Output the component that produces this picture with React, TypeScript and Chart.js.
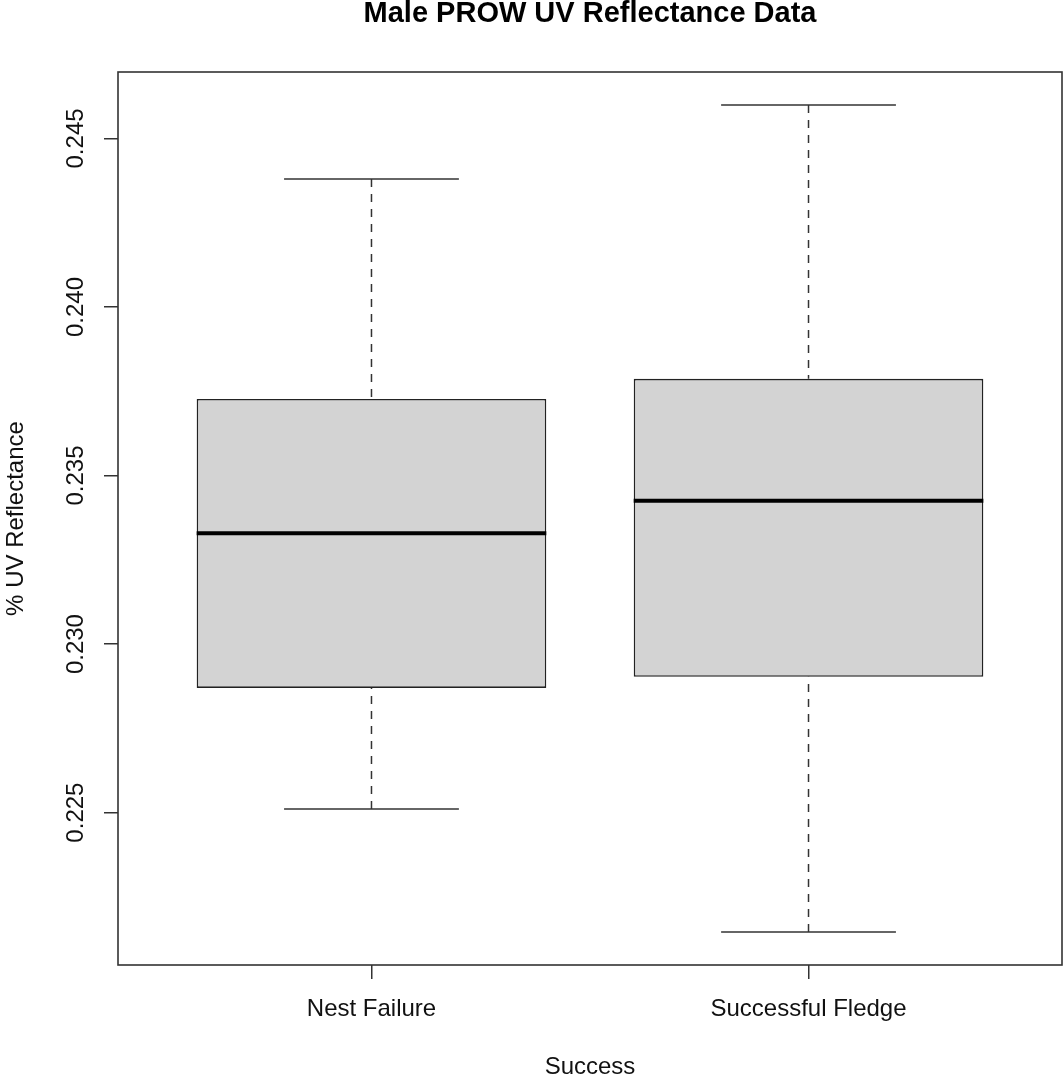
import React, { useEffect, useRef } from 'react';
import { Chart, registerables } from 'chart.js';

Chart.register(...registerables);

const categories = ['Nest Failure', 'Successful Fledge'];
const whiskerLow = [0.22511, 0.22146];
const q1 = [0.2287, 0.22903];
const median = [0.23329, 0.23425];
const q3 = [0.23727, 0.23787];
const whiskerHigh = [0.2438, 0.24599];
const yTicks = [0.225, 0.23, 0.235, 0.24, 0.245];

const FONT = "'Liberation Sans', Arial, Helvetica, sans-serif";

const lo = Math.min(...whiskerLow);
const hi = Math.max(...whiskerHigh);
const yPad = 0.04 * (hi - lo);
const xPad = 0.04 * categories.length;

const framePlugin = {
  id: 'rFrame',
  afterDatasetsDraw(chart: any) {
    const { ctx, chartArea } = chart;
    ctx.save();
    ctx.strokeStyle = '#333';
    ctx.lineWidth = 1.6;
    ctx.strokeRect(chartArea.left, chartArea.top, chartArea.right - chartArea.left, chartArea.bottom - chartArea.top);
    ctx.restore();
  },
};

const boxPlugin = {
  id: 'boxWhiskers',
  afterDatasetsDraw(chart: any) {
    const ctx = chart.ctx;
    const ys = chart.scales.y;
    const meta = chart.getDatasetMeta(0);
    const seg = (x1: number, y1: number, x2: number, y2: number) => {
      ctx.beginPath();
      ctx.moveTo(x1, y1);
      ctx.lineTo(x2, y2);
      ctx.stroke();
    };
    meta.data.forEach((bar: any, i: number) => {
      const { x, width } = bar.getProps(['x', 'width'], true);
      const half = width / 2;
      const pHi = ys.getPixelForValue(whiskerHigh[i]);
      const pLo = ys.getPixelForValue(whiskerLow[i]);
      const pQ1 = ys.getPixelForValue(q1[i]);
      const pQ3 = ys.getPixelForValue(q3[i]);
      const pMed = ys.getPixelForValue(median[i]);
      ctx.save();
      ctx.strokeStyle = '#333';
      ctx.lineWidth = 1.5;
      ctx.setLineDash([8, 7]);
      seg(x, pHi, x, pQ3);
      seg(x, pLo, x, pQ1);
      ctx.setLineDash([]);
      seg(x - half / 2, pHi, x + half / 2, pHi);
      seg(x - half / 2, pLo, x + half / 2, pLo);
      ctx.strokeStyle = '#000';
      ctx.lineWidth = 4;
      seg(x - half, pMed, x + half, pMed);
      ctx.restore();
    });
  },
};

export default function App() {
  const ref = useRef<HTMLCanvasElement | null>(null);

  useEffect(() => {
    if (!ref.current) return;
    const chart = new Chart(ref.current, {
      type: 'bar',
      data: {
        datasets: [
          {
            label: '% UV Reflectance',
            data: categories.map((_, i) => ({ x: i + 1, y: [q1[i], q3[i]] })) as any,
            backgroundColor: '#d3d3d3',
            borderColor: '#222',
            borderWidth: 1.6,
            borderSkipped: false,
            categoryPercentage: 1,
            barPercentage: 0.8,
          } as any,
        ],
      },
      options: {
        responsive: false,
        animation: false,
        devicePixelRatio: 1,
        layout: { padding: { left: 0, right: 2, top: 0, bottom: 0 } },
        plugins: {
          legend: { display: false },
          tooltip: { enabled: false },
          title: {
            display: true,
            fullSize: false,
            text: 'Male PROW UV Reflectance Data',
            color: '#000',
            font: { family: FONT, size: 29, weight: 'bold', lineHeight: 0.9 },
            padding: { top: 1, bottom: 72 - 27.1 },
          },
        },
        scales: {
          x: {
            type: 'linear',
            offset: false,
            min: 0.5 - xPad,
            max: categories.length + 0.5 + xPad,
            afterBuildTicks: (scale: any) => {
              scale.ticks = categories.map((_, i) => ({ value: i + 1 }));
            },
            afterFit: (scale: any) => {
              scale.height = 115;
            },
            ticks: {
              autoSkip: false,
              maxRotation: 0,
              minRotation: 0,
              padding: 16,
              color: '#111',
              font: { family: FONT, size: 24 },
              callback: (v: any) => categories[Math.round(Number(v)) - 1] ?? '',
            },
            grid: {
              offset: false,
              drawOnChartArea: false,
              drawTicks: true,
              tickLength: 14,
              color: '#333',
              lineWidth: 1.5,
            },
            border: { display: false },
            title: {
              display: true,
              text: 'Success',
              color: '#111',
              font: { family: FONT, size: 24 },
              padding: { top: 0, bottom: -2 },
            },
          },
          y: {
            type: 'linear',
            min: lo - yPad,
            max: hi + yPad,
            afterBuildTicks: (scale: any) => {
              scale.ticks = yTicks.map((v) => ({ value: v }));
            },
            afterFit: (scale: any) => {
              scale.width = 118;
            },
            ticks: {
              autoSkip: false,
              minRotation: 90,
              maxRotation: 90,
              crossAlign: 'center',
              padding: -2,
              color: '#111',
              font: { family: FONT, size: 24 },
              callback: (v: any) => Number(v).toFixed(3),
            },
            grid: {
              drawOnChartArea: false,
              drawTicks: true,
              tickLength: 14,
              color: '#333',
              lineWidth: 1.5,
            },
            border: { display: false },
            title: {
              display: true,
              text: '% UV Reflectance',
              color: '#111',
              font: { family: FONT, size: 24 },
              padding: { top: 2, bottom: 0 },
            },
          },
        },
      } as any,
      plugins: [boxPlugin, framePlugin],
    });
    return () => chart.destroy();
  }, []);

  return (
    <div style={{ position: 'fixed', left: 0, top: 0, width: 1064, height: 1080, background: '#fff' }}>
      <canvas ref={ref} width={1064} height={1080} style={{ display: 'block' }} />
    </div>
  );
}
